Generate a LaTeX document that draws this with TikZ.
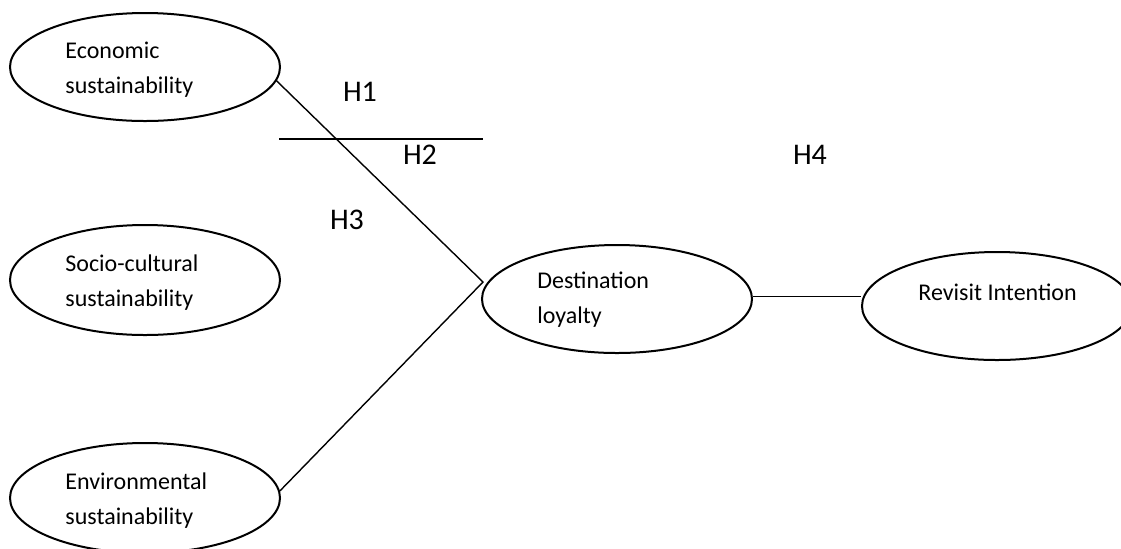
\documentclass[tikz,border=0pt]{standalone}
\usepackage{fontspec}
\setmainfont{Carlito}
\usetikzlibrary{shapes.geometric}

\tikzset{
  construct/.style={draw, ellipse, line width=1pt, inner sep=0pt, minimum width=135pt, minimum height=54pt},
  caption/.style={anchor=west, align=left, inner sep=0pt, font=\fontsize{12}{17.5}\selectfont},
  hyp/.style={inner sep=0pt, font=\fontsize{15}{18}\selectfont},
  link/.style={line width=0.7pt}
}

\begin{document}
\begin{tikzpicture}[x=0.5pt, y=-0.5pt]
\useasboundingbox (0,0) rectangle (1121,548);
\node[construct] (eco) at (145,67) {};
\node[construct, minimum height=55pt] (soc) at (145,280) {};
\node[construct, minimum height=55pt] (env) at (145,498) {};
\node[construct] (dest) at (617,299) {};
\node[construct] (rev) at (997,306) {};
\node[caption] (ecotext) at (65,70) {Economic\\sustainability};
\node[caption] (soctext) at (65,283) {Socio-cultural\\sustainability};
\node[caption] (envtext) at (65,501) {Environmental\\sustainability};
\node[caption] (desttext) at (537,300) {Destination\\loyalty};
\node[caption] (revtext) at (918,292) {Revisit Intention};
\coordinate (apex) at (483,282);
\draw[link] (eco.-6) -- (apex) -- (env.3);
\draw[link] (dest.1.2) -- (dest.1.2 -| rev.west);
\draw[link] (279,139) -- (483,139);
\node[hyp] (h1) at (360,92) {H1};
\node[hyp] (h2) at (420,155) {H2};
\node[hyp] (h3) at (347,220) {H3};
\node[hyp] (h4) at (810,155) {H4};
\end{tikzpicture}
\end{document}
